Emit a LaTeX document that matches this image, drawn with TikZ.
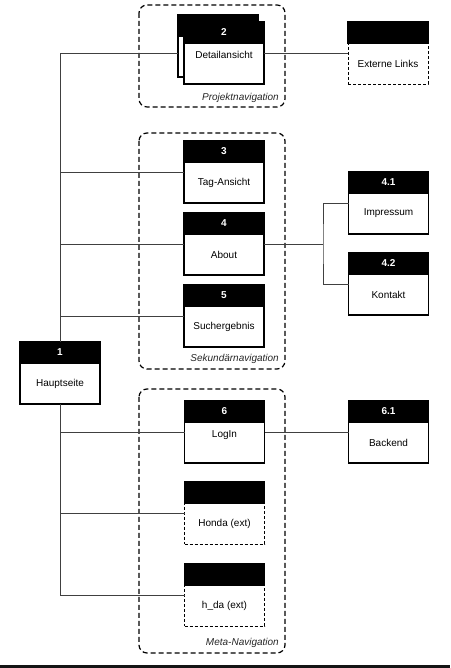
\documentclass[tikz,border=0pt]{standalone}
\usepackage{fontspec}
\setmainfont{Liberation Sans}
\usetikzlibrary{positioning}

\tikzset{
  page/.style={draw, line width=1.2pt, fill=white, minimum width=80pt, minimum height=41pt,
    inner sep=3pt, outer sep=0pt, font=\fontsize{10}{12}\selectfont},
  extpage/.style={page, dashed, dash pattern=on 3pt off 2pt, line width=0.8pt},
  pagehead/.style={fill=black, draw=black, line width=1.2pt, minimum width=80pt, minimum height=21pt,
    inner sep=0pt, outer sep=0pt, text=white, font=\bfseries\fontsize{10}{12}\selectfont},
  uppertext/.style={text height=13pt, text depth=22pt, inner ysep=3pt},
  link/.style={draw=black!75, line width=0.8pt},
  navgroup/.style={draw=black, dashed, dash pattern=on 5pt off 3pt, line width=1.2pt, rounded corners=8pt},
  grouplabel/.style={anchor=base east, font=\itshape\fontsize{10}{12}\selectfont, text=black!85, inner sep=0pt}
}

\begin{document}
\begin{tikzpicture}[x=1pt,y=1pt]
        \useasboundingbox (0,0) rectangle (450,668);
        \fill[black!92] (0,0) rectangle (450,3);

        % Navigation groups
        \draw[navgroup] (139,663) rectangle (285,561);
        \node[grouplabel] (projlabel) at (279,567) {Projektnavigation};
        \draw[navgroup] (139,535) rectangle (285,299);
        \node[grouplabel] (seklabel) at (279,306) {Sekundärnavigation};
        \draw[navgroup] (139,279) rectangle (285,15);
        \node[grouplabel] (metalabel) at (279,22) {Meta-Navigation};

        % Pages
        \node[page] (page1) at (60,284.5) {Hauptseite};
        \node[pagehead, above=0pt of page1] (head1) {1};

        \node[page] (page2b) at (218,611.5) {};
        \node[pagehead, above=0pt of page2b] (head2b) {};
        \node[page, uppertext] (page2) at (224,604.5) {Detailansicht};
        \node[pagehead, above=0pt of page2] (head2) {2};
        \node[extpage] (pageext) at (388,604.5) {Externe Links};
        \node[pagehead, above=0pt of pageext] (headext) {};

        \node[page] (page3) at (224,485.5) {Tag-Ansicht};
        \node[pagehead, above=0pt of page3] (head3) {3};
        \node[page] (page4) at (224,413.5) {About};
        \node[pagehead, above=0pt of page4] (head4) {4};
        \node[page] (page5) at (224,341.5) {Suchergebnis};
        \node[pagehead, above=0pt of page5] (head5) {5};
        \node[page] (page41) at (388.5,454.5) {Impressum};
        \node[pagehead, above=0pt of page41] (head41) {4.1};
        \node[page] (page42) at (388.5,373.5) {Kontakt};
        \node[pagehead, above=0pt of page42] (head42) {4.2};

        \node[page, uppertext] (page6) at (224.5,225.5) {LogIn};
        \node[pagehead, above=0pt of page6] (head6) {6};
        \node[page] (page61) at (388.5,225.5) {Backend};
        \node[pagehead, above=0pt of page61] (head61) {6.1};
        \node[extpage] (pagehonda) at (224.5,144.5) {Honda (ext)};
        \node[pagehead, above=0pt of pagehonda] (headhonda) {};
        \node[extpage] (pagehda) at (224.5,62.5) {h\_da (ext)};
        \node[pagehead, above=0pt of pagehda] (headhda) {};

        % Entry points of the links
        \foreach \p in {2,ext,3,4,5,41,42,6,61,honda,hda}
            \coordinate (in\p) at ([yshift=-10pt]page\p.north west);

        % Links
        \draw[link] (head1.north) |- (in2 -| page2b.west);
        \draw[link] (page2.east |- in2) -- (inext);
        \draw[link] (head1.north) |- (in3);
        \draw[link] (head1.north) |- (in4);
        \draw[link] (head1.north) |- (in5);
        \draw[link] (page4.east |- in4) -- ++(59,0) coordinate (fork4);
        \draw[link] (in41) -| (fork4) |- (in42);
        \draw[link] (page1.south) |- (in6);
        \draw[link] (page6.east |- in6) -- (in61);
        \draw[link] (page1.south) |- (inhonda);
        \draw[link] (page1.south) |- (inhda);
    \end{tikzpicture}
\end{document}
